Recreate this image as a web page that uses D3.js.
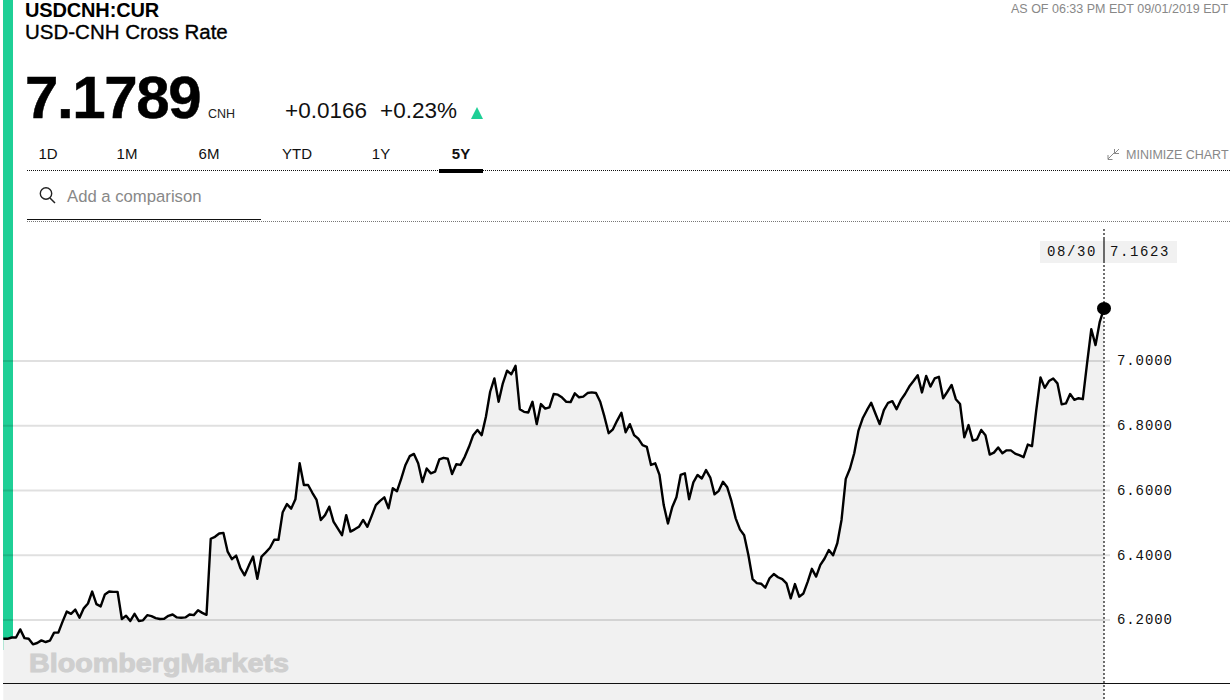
<!DOCTYPE html>
<html>
<head>
<meta charset="utf-8">
<script src="https://cdn.jsdelivr.net/npm/d3@7"></script>
<style>
  body { margin: 0; background: #fff; overflow: hidden; }
  text { font-family: "Liberation Sans", sans-serif; }
  .mono text { font-family: "Liberation Mono", monospace; font-size: 14px; fill: #111; letter-spacing: 0.9px; }
  text.mono { font-family: "Liberation Mono", monospace; font-size: 14px; fill: #111; letter-spacing: 1.6px; }
</style>
</head>
<body>
<svg id="chart" width="1230" height="700"></svg>
<script>
// weekly closes, oldest first
const rates = [
  6.142, 6.142, 6.146, 6.146, 6.171, 6.144, 6.142, 6.125, 6.129, 6.137,
  6.132, 6.136, 6.161, 6.161, 6.195, 6.226, 6.219, 6.232, 6.207, 6.236,
  6.251, 6.288, 6.249, 6.242, 6.279, 6.288, 6.287, 6.287, 6.203, 6.213,
  6.197, 6.219, 6.197, 6.199, 6.215, 6.212, 6.206, 6.203, 6.204, 6.213,
  6.217, 6.208, 6.207, 6.208, 6.217, 6.215, 6.230, 6.222, 6.216, 6.451,
  6.457, 6.467, 6.469, 6.411, 6.388, 6.399, 6.360, 6.338, 6.368, 6.396,
  6.327, 6.396, 6.409, 6.423, 6.448, 6.448, 6.533, 6.558, 6.544, 6.573,
  6.684, 6.617, 6.617, 6.593, 6.571, 6.509, 6.524, 6.550, 6.504, 6.483,
  6.462, 6.524, 6.473, 6.480, 6.488, 6.509, 6.488, 6.521, 6.555, 6.568,
  6.579, 6.545, 6.607, 6.598, 6.637, 6.679, 6.706, 6.713, 6.684, 6.626,
  6.668, 6.653, 6.658, 6.696, 6.701, 6.698, 6.651, 6.681, 6.679, 6.704,
  6.735, 6.771, 6.787, 6.771, 6.828, 6.905, 6.946, 6.874, 6.931, 6.970,
  6.959, 6.985, 6.851, 6.843, 6.841, 6.874, 6.805, 6.867, 6.853, 6.857,
  6.898, 6.896, 6.887, 6.874, 6.873, 6.900, 6.888, 6.890, 6.901, 6.903,
  6.901, 6.874, 6.828, 6.777, 6.789, 6.816, 6.840, 6.780, 6.805, 6.771,
  6.760, 6.740, 6.735, 6.679, 6.684, 6.648, 6.555, 6.498, 6.548, 6.579,
  6.648, 6.653, 6.573, 6.625, 6.648, 6.637, 6.663, 6.640, 6.588, 6.599,
  6.627, 6.610, 6.567, 6.514, 6.480, 6.462, 6.401, 6.326, 6.314, 6.312,
  6.300, 6.329, 6.342, 6.332, 6.326, 6.313, 6.267, 6.311, 6.272, 6.282,
  6.318, 6.358, 6.334, 6.370, 6.390, 6.416, 6.400, 6.437, 6.509, 6.636,
  6.668, 6.715, 6.785, 6.823, 6.848, 6.871, 6.838, 6.805, 6.848, 6.871,
  6.876, 6.851, 6.879, 6.898, 6.921, 6.938, 6.956, 6.903, 6.954, 6.921,
  6.946, 6.951, 6.885, 6.905, 6.926, 6.882, 6.867, 6.764, 6.802, 6.754,
  6.758, 6.787, 6.771, 6.711, 6.717, 6.733, 6.715, 6.724, 6.724, 6.714,
  6.709, 6.703, 6.742, 6.737, 6.848, 6.949, 6.917, 6.938, 6.946, 6.931,
  6.866, 6.869, 6.898, 6.880, 6.885, 6.882, 6.993, 7.098, 7.049, 7.121,
  7.1623
];
const rateTicks = [6.2, 6.4, 6.6, 6.8, 7.0];
const ranges = ["1D", "1M", "6M", "YTD", "1Y", "5Y"];
const rangeCenters = [48, 127, 209, 297, 381, 461];

const svg = d3.select("#chart");
const ink = "#000", grey = "#888", green = "#1fcf96";

const x = d3.scaleLinear().domain([0, rates.length - 1]).range([3.3, 1104]);
const y = d3.scaleLinear().domain([6.2, 7]).range([620, 361]);
const bottom = 700;

// green side bar sits behind the area
svg.append("rect").attr("x", 3).attr("y", 0).attr("width", 10).attr("height", 650).attr("fill", green);

// Header
const addText = (str, px, py, size, fill, weight) => svg.append("text")
    .attr("x", px).attr("y", py)
    .attr("font-size", size).attr("fill", fill || ink)
    .attr("font-weight", weight || "normal")
    .text(str);

addText("USDCNH:CUR", 25, 17, 20, ink, "bold").attr("letter-spacing", -0.15);
addText("USD-CNH Cross Rate", 25, 39, 20.5, ink).attr("stroke", ink).attr("stroke-width", 0.35);
addText("7.1789", 25, 118, 60, ink, "bold").attr("letter-spacing", -1.4).attr("stroke", ink).attr("stroke-width", 0.5);
addText("CNH", 208, 118, 12.5, "#222");
addText("+0.0166", 285, 118, 22.5, "#111");
addText("+0.23%", 380, 118, 22.5, "#111");
svg.append("path").attr("d", "M471,119L477,107L483,119Z").attr("fill", green);
addText("AS OF 06:33 PM EDT 09/01/2019 EDT", 1011, 13, 12.5, grey);
addText("MINIMIZE CHART", 1126, 159, 12.5, grey);

svg.append("path")
    .attr("d", "M1108,159L1114,153M1108,155V159.5H1112.5M1119,149L1114.5,153.5M1114.5,149V153.5H1119")
    .attr("fill", "none").attr("stroke", grey).attr("stroke-width", 1);

// Range tabs
svg.append("g").selectAll("text")
    .data(ranges)
    .join("text")
    .attr("x", (d, i) => rangeCenters[i])
    .attr("y", 159)
    .attr("text-anchor", "middle")
    .attr("font-size", 15)
    .attr("font-weight", d => d === "5Y" ? "bold" : "normal")
    .attr("fill", "#111")
    .text(d => d);

svg.append("line").attr("x1", 27).attr("x2", 1230).attr("y1", 170.5).attr("y2", 170.5)
    .attr("stroke", "#111").attr("stroke-dasharray", "1,1");
svg.append("rect").attr("x", 439).attr("y", 169).attr("width", 44).attr("height", 4).attr("fill", ink);

// Comparison box
svg.append("circle").attr("cx", 46).attr("cy", 193.5).attr("r", 5.7)
    .attr("fill", "none").attr("stroke", "#222").attr("stroke-width", 1.4);
svg.append("line").attr("x1", 50).attr("y1", 198).attr("x2", 55).attr("y2", 203)
    .attr("stroke", "#222").attr("stroke-width", 1.5);
addText("Add a comparison", 67, 202, 16.7, grey);
svg.append("line").attr("x1", 27).attr("x2", 261).attr("y1", 219.5).attr("y2", 219.5).attr("stroke", "#111");
svg.append("line").attr("x1", 27).attr("x2", 1230).attr("y1", 221.5).attr("y2", 221.5)
    .attr("stroke", "#777").attr("stroke-dasharray", "1,1");

// Area under the line, runs off the page bottom
const area = d3.area()
    .x((d, i) => x(i))
    .y0(bottom)
    .y1(d => y(d));

svg.append("path")
    .datum(rates)
    .attr("d", area)
    .attr("fill", "#f1f1f1");

// Gridlines and labels
const yAxis = d3.axisRight(y)
    .tickValues(rateTicks)
    .tickFormat(d3.format(".4f"))
    .tickSize(-(1110 - 3))
    .tickPadding(7);

const axisG = svg.append("g")
    .attr("class", "mono")
    .attr("transform", "translate(1110,-0.5)")
    .call(yAxis);
axisG.select(".domain").remove();
axisG.selectAll("line").attr("stroke", "#000").attr("stroke-opacity", 0.12).attr("stroke-width", 2);
axisG.selectAll("text").attr("fill", "#111");

// Watermark
addText("BloombergMarkets", 29, 672, 25, "#cfcfcf", "bold")
    .attr("stroke", "#cfcfcf").attr("stroke-width", 1)
    .attr("textLength", 260).attr("lengthAdjust", "spacingAndGlyphs");

// Baseline
svg.append("line").attr("x1", 3).attr("x2", 1230).attr("y1", 683.5).attr("y2", 683.5).attr("stroke", "#111");

// Rate line
const line = d3.line()
    .x((d, i) => x(i))
    .y(d => y(d));

svg.append("path")
    .datum(rates)
    .attr("d", line)
    .attr("fill", "none")
    .attr("stroke", ink)
    .attr("stroke-width", 2.4)
    .attr("stroke-linejoin", "round");

// Last point marker
const lastIndex = rates.length - 1;
svg.append("line")
    .attr("x1", x(lastIndex)).attr("x2", x(lastIndex))
    .attr("y1", 229).attr("y2", bottom)
    .attr("stroke", "#111").attr("stroke-width", 1.2).attr("stroke-dasharray", "2,2");

svg.append("rect").attr("x", 1040).attr("y", 241).attr("width", 137).attr("height", 22).attr("fill", "#f1f1f1");
svg.append("line")
    .attr("x1", x(lastIndex)).attr("x2", x(lastIndex))
    .attr("y1", 239).attr("y2", 263)
    .attr("stroke", "#111").attr("stroke-width", 1.2);
svg.append("text").attr("class", "mono").attr("x", 1047).attr("y", 256).text("08/30");
svg.append("text").attr("class", "mono").attr("x", 1110).attr("y", 256).text(d3.format(".4f")(rates[lastIndex]));

svg.append("ellipse")
    .attr("cx", x(lastIndex)).attr("cy", y(rates[lastIndex]))
    .attr("rx", 7).attr("ry", 6.5).attr("fill", ink);
</script>
</body>
</html>
